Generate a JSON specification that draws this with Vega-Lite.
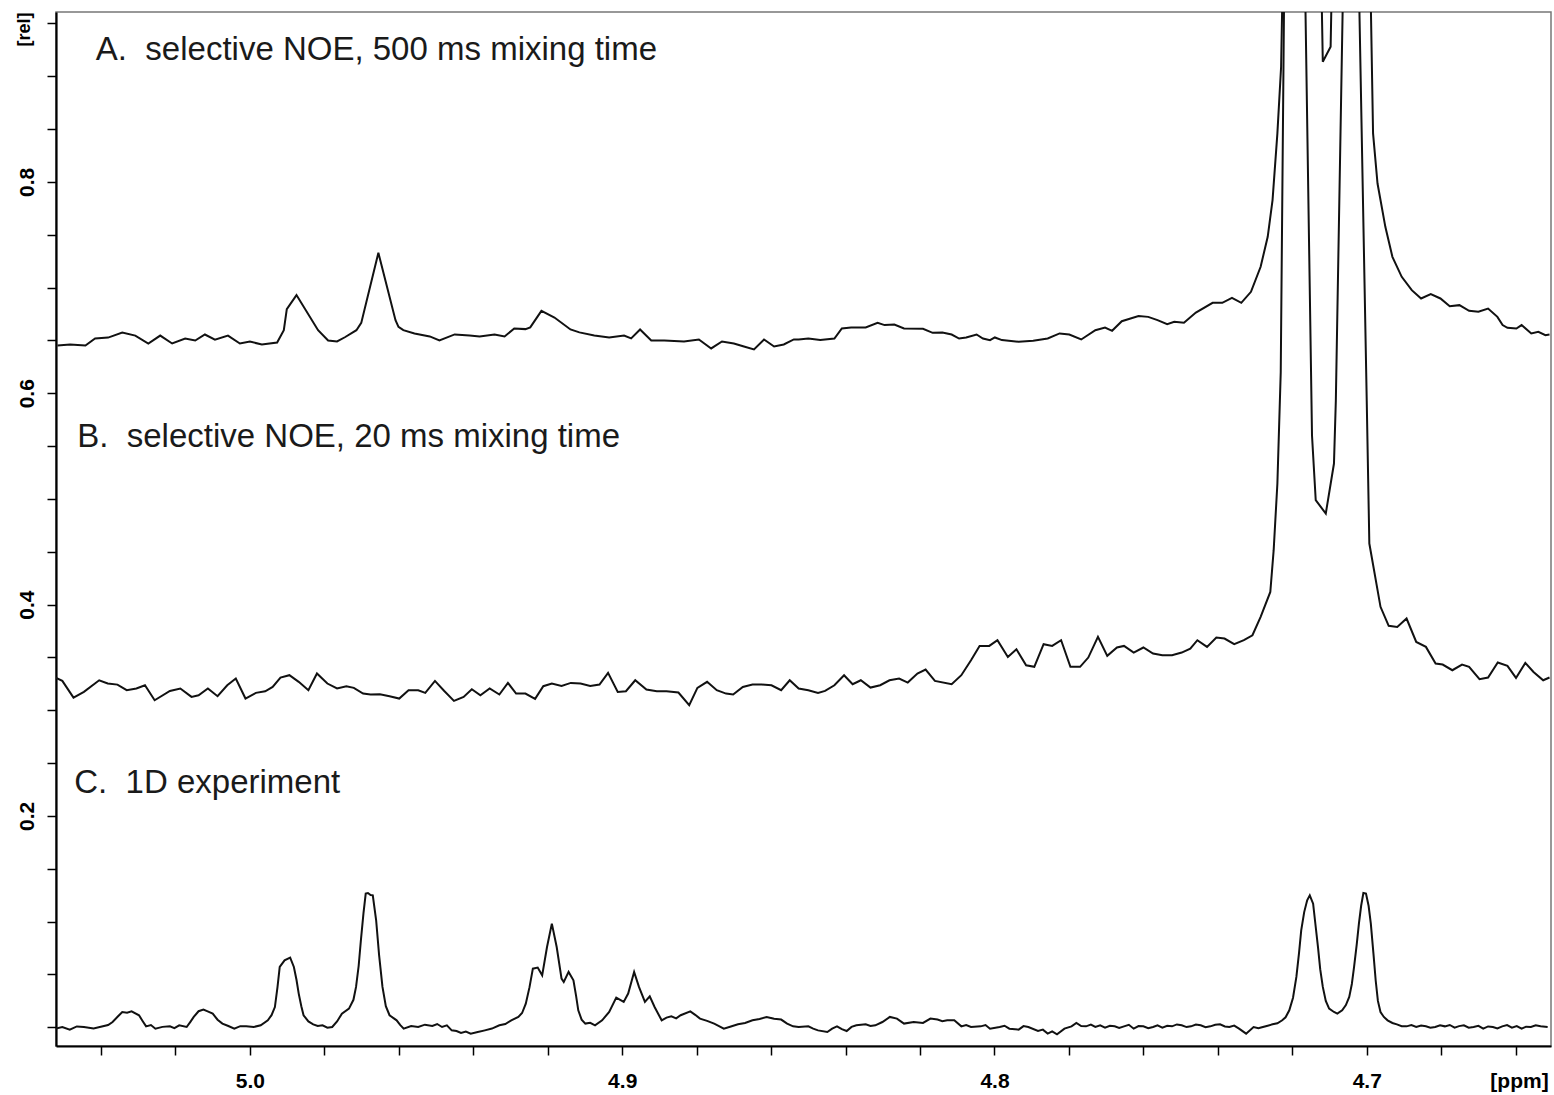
{
"$schema": "https://vega.github.io/schema/vega-lite/v6.json",
"width": 1495, "height": 1034,
"autosize": {"type": "none"},
"padding": {"left": 56, "top": 12, "right": 3, "bottom": 49},
"background": "white",
"config": {"view": {"stroke": "#777", "strokeWidth": 1.5}, "font": "Liberation Sans"},
"datasets": {
"labels": [
{"label": "A.\u00a0 selective NOE, 500 ms mixing time", "ppm": 5.0414, "rel": 0.9153},
{"label": "B.\u00a0 selective NOE, 20 ms mixing time", "ppm": 5.0464, "rel": 0.549},
{"label": "C.\u00a0 1D experiment", "ppm": 5.0472, "rel": 0.2218}
],
"spectra": [
{"trace":"A","ppm":5.0517,"rel":0.6452},{"trace":"A","ppm":5.0483,"rel":0.6461},{"trace":"A","ppm":5.0442,"rel":0.6452},{"trace":"A","ppm":5.0416,"rel":0.6518},{"trace":"A","ppm":5.0381,"rel":0.6527},{"trace":"A","ppm":5.0343,"rel":0.6575},{"trace":"A","ppm":5.0308,"rel":0.6546},{"trace":"A","ppm":5.0273,"rel":0.6471},{"trace":"A","ppm":5.0241,"rel":0.6546},{"trace":"A","ppm":5.0209,"rel":0.6471},{"trace":"A","ppm":5.0174,"rel":0.6518},{"trace":"A","ppm":5.0147,"rel":0.6499},{"trace":"A","ppm":5.0121,"rel":0.6556},{"trace":"A","ppm":5.0094,"rel":0.6508},{"trace":"A","ppm":5.0059,"rel":0.6546},{"trace":"A","ppm":5.0027,"rel":0.6471},{"trace":"A","ppm":5.0,"rel":0.6489},{"trace":"A","ppm":4.9968,"rel":0.6461},{"trace":"A","ppm":4.9927,"rel":0.648},{"trace":"A","ppm":4.9909,"rel":0.6597},{"trace":"A","ppm":4.9901,"rel":0.6796},{"trace":"A","ppm":4.9875,"rel":0.6929},{"trace":"A","ppm":4.9817,"rel":0.6597},{"trace":"A","ppm":4.979,"rel":0.65},{"trace":"A","ppm":4.9766,"rel":0.649},{"trace":"A","ppm":4.9745,"rel":0.653},{"trace":"A","ppm":4.9714,"rel":0.6597},{"trace":"A","ppm":4.9701,"rel":0.6666},{"trace":"A","ppm":4.9655,"rel":0.7329},{"trace":"A","ppm":4.9609,"rel":0.6692},{"trace":"A","ppm":4.9601,"rel":0.6629},{"trace":"A","ppm":4.9588,"rel":0.6597},{"trace":"A","ppm":4.9558,"rel":0.6566},{"trace":"A","ppm":4.9517,"rel":0.6538},{"trace":"A","ppm":4.9491,"rel":0.65},{"trace":"A","ppm":4.945,"rel":0.6557},{"trace":"A","ppm":4.941,"rel":0.6547},{"trace":"A","ppm":4.9383,"rel":0.6538},{"trace":"A","ppm":4.9343,"rel":0.6557},{"trace":"A","ppm":4.9316,"rel":0.6538},{"trace":"A","ppm":4.929,"rel":0.6613},{"trace":"A","ppm":4.926,"rel":0.6607},{"trace":"A","ppm":4.9247,"rel":0.6623},{"trace":"A","ppm":4.9217,"rel":0.678},{"trace":"A","ppm":4.9182,"rel":0.6717},{"trace":"A","ppm":4.9139,"rel":0.6604},{"trace":"A","ppm":4.9115,"rel":0.6576},{"trace":"A","ppm":4.9075,"rel":0.6547},{"trace":"A","ppm":4.9035,"rel":0.6528},{"trace":"A","ppm":4.8995,"rel":0.6547},{"trace":"A","ppm":4.8976,"rel":0.6519},{"trace":"A","ppm":4.8952,"rel":0.6604},{"trace":"A","ppm":4.8922,"rel":0.65},{"trace":"A","ppm":4.8887,"rel":0.65},{"trace":"A","ppm":4.8834,"rel":0.649},{"trace":"A","ppm":4.8794,"rel":0.6509},{"trace":"A","ppm":4.8761,"rel":0.6424},{"trace":"A","ppm":4.8732,"rel":0.649},{"trace":"A","ppm":4.87,"rel":0.6471},{"trace":"A","ppm":4.8673,"rel":0.6443},{"trace":"A","ppm":4.8646,"rel":0.6415},{"trace":"A","ppm":4.8619,"rel":0.6509},{"trace":"A","ppm":4.8592,"rel":0.6443},{"trace":"A","ppm":4.8566,"rel":0.6462},{"trace":"A","ppm":4.8539,"rel":0.6509},
{"trace":"A","ppm":4.8526,"rel":0.6509},{"trace":"A","ppm":4.85,"rel":0.6518},{"trace":"A","ppm":4.8468,"rel":0.6503},{"trace":"A","ppm":4.843,"rel":0.6518},{"trace":"A","ppm":4.841,"rel":0.6613},{"trace":"A","ppm":4.8385,"rel":0.6622},{"trace":"A","ppm":4.8346,"rel":0.6622},{"trace":"A","ppm":4.8314,"rel":0.6667},{"trace":"A","ppm":4.8295,"rel":0.6645},{"trace":"A","ppm":4.8269,"rel":0.6651},{"trace":"A","ppm":4.8243,"rel":0.6613},{"trace":"A","ppm":4.8192,"rel":0.661},{"trace":"A","ppm":4.8166,"rel":0.6572},{"trace":"A","ppm":4.814,"rel":0.6575},{"trace":"A","ppm":4.8115,"rel":0.6556},{"trace":"A","ppm":4.8095,"rel":0.6518},{"trace":"A","ppm":4.8076,"rel":0.6528},{"trace":"A","ppm":4.8048,"rel":0.6556},{"trace":"A","ppm":4.8031,"rel":0.6518},{"trace":"A","ppm":4.8012,"rel":0.6503},{"trace":"A","ppm":4.7999,"rel":0.6528},{"trace":"A","ppm":4.798,"rel":0.6503},{"trace":"A","ppm":4.7935,"rel":0.6487},{"trace":"A","ppm":4.7896,"rel":0.6496},{"trace":"A","ppm":4.7857,"rel":0.6518},{"trace":"A","ppm":4.7825,"rel":0.6566},{"trace":"A","ppm":4.7799,"rel":0.6556},{"trace":"A","ppm":4.7767,"rel":0.6509},{"trace":"A","ppm":4.7729,"rel":0.6597},{"trace":"A","ppm":4.7703,"rel":0.6622},{"trace":"A","ppm":4.7684,"rel":0.6591},{"trace":"A","ppm":4.7658,"rel":0.6682},{"trace":"A","ppm":4.7613,"rel":0.673},{"trace":"A","ppm":4.7587,"rel":0.6723},{"trace":"A","ppm":4.7562,"rel":0.6692},{"trace":"A","ppm":4.7536,"rel":0.6654},{"trace":"A","ppm":4.7517,"rel":0.6676},{"trace":"A","ppm":4.7491,"rel":0.6667},{"trace":"A","ppm":4.7459,"rel":0.6764},{"trace":"A","ppm":4.7414,"rel":0.6856},{"trace":"A","ppm":4.7388,"rel":0.6856},{"trace":"A","ppm":4.7362,"rel":0.6903},{"trace":"A","ppm":4.7337,"rel":0.6856},{"trace":"A","ppm":4.7311,"rel":0.696},{"trace":"A","ppm":4.7285,"rel":0.7197},{"trace":"A","ppm":4.7266,"rel":0.7481},{"trace":"A","ppm":4.7253,"rel":0.7828},{"trace":"A","ppm":4.724,"rel":0.8459},{"trace":"A","ppm":4.723,"rel":0.909},{"trace":"A","ppm":4.7174,"rel":2.0},{"trace":"A","ppm":4.7118,"rel":0.9137},{"trace":"A","ppm":4.7097,"rel":0.9279},{"trace":"A","ppm":4.704,"rel":2.0},{"trace":"A","ppm":4.6983,"rel":0.8459},{"trace":"A","ppm":4.6971,"rel":0.7985},{"trace":"A","ppm":4.695,"rel":0.7575},{"trace":"A","ppm":4.6931,"rel":0.7291},{"trace":"A","ppm":4.6906,"rel":0.7102},{"trace":"A","ppm":4.6879,"rel":0.6976},{"trace":"A","ppm":4.6854,"rel":0.6897},{"trace":"A","ppm":4.6828,"rel":0.6938},{"trace":"A","ppm":4.6802,"rel":0.6897},{"trace":"A","ppm":4.6777,"rel":0.6824},{"trace":"A","ppm":4.6751,"rel":0.6834},{"trace":"A","ppm":4.6725,"rel":0.678},{"trace":"A","ppm":4.67,"rel":0.6771},{"trace":"A","ppm":4.6674,"rel":0.6802},{"trace":"A","ppm":4.6649,"rel":0.6723},{"trace":"A","ppm":4.6635,"rel":0.6645},{"trace":"A","ppm":4.6622,"rel":0.6619},{"trace":"A","ppm":4.6598,"rel":0.6613},{"trace":"A","ppm":4.6584,"rel":0.6645},{"trace":"A","ppm":4.6558,"rel":0.6566},{"trace":"A","ppm":4.6539,"rel":0.6581},{"trace":"A","ppm":4.652,"rel":0.655},{"trace":"A","ppm":4.6509,"rel":0.6556},
{"trace":"B","ppm":5.0523,"rel":0.331},{"trace":"B","ppm":5.0504,"rel":0.3278},{"trace":"B","ppm":5.0474,"rel":0.312},{"trace":"B","ppm":5.0446,"rel":0.3174},{"trace":"B","ppm":5.0405,"rel":0.3284},{"trace":"B","ppm":5.0382,"rel":0.3253},{"trace":"B","ppm":5.0356,"rel":0.3243},{"trace":"B","ppm":5.0331,"rel":0.319},{"trace":"B","ppm":5.0305,"rel":0.3206},{"trace":"B","ppm":5.0282,"rel":0.3237},{"trace":"B","ppm":5.0256,"rel":0.3095},{"trace":"B","ppm":5.0215,"rel":0.3183},{"trace":"B","ppm":5.0187,"rel":0.3206},{"trace":"B","ppm":5.0157,"rel":0.3127},{"trace":"B","ppm":5.0138,"rel":0.3142},{"trace":"B","ppm":5.0113,"rel":0.3206},{"trace":"B","ppm":5.0087,"rel":0.3133},{"trace":"B","ppm":5.0061,"rel":0.3237},{"trace":"B","ppm":5.0038,"rel":0.33},{"trace":"B","ppm":5.0012,"rel":0.3111},{"trace":"B","ppm":4.9984,"rel":0.3165},{"trace":"B","ppm":4.9959,"rel":0.318},{"trace":"B","ppm":4.9939,"rel":0.3221},{"trace":"B","ppm":4.9918,"rel":0.331},{"trace":"B","ppm":4.9894,"rel":0.3332},{"trace":"B","ppm":4.9869,"rel":0.3269},{"trace":"B","ppm":4.9843,"rel":0.319},{"trace":"B","ppm":4.982,"rel":0.3348},{"trace":"B","ppm":4.9792,"rel":0.3253},{"trace":"B","ppm":4.9766,"rel":0.3206},{"trace":"B","ppm":4.9741,"rel":0.3228},{"trace":"B","ppm":4.9721,"rel":0.3212},{"trace":"B","ppm":4.9696,"rel":0.3158},{"trace":"B","ppm":4.9676,"rel":0.3149},{"trace":"B","ppm":4.9651,"rel":0.3152},{"trace":"B","ppm":4.9625,"rel":0.3133},{"trace":"B","ppm":4.9599,"rel":0.3111},{"trace":"B","ppm":4.9574,"rel":0.319},{"trace":"B","ppm":4.9548,"rel":0.319},{"trace":"B","ppm":4.9529,"rel":0.3165},{"trace":"B","ppm":4.9503,"rel":0.3278},{"trace":"B","ppm":4.9478,"rel":0.3183},{"trace":"B","ppm":4.9452,"rel":0.3089},{"trace":"B","ppm":4.9426,"rel":0.3127},{"trace":"B","ppm":4.9404,"rel":0.3199},{"trace":"B","ppm":4.9381,"rel":0.3142},{"trace":"B","ppm":4.9356,"rel":0.3206},{"trace":"B","ppm":4.933,"rel":0.3149},{"trace":"B","ppm":4.9307,"rel":0.3259},{"trace":"B","ppm":4.9285,"rel":0.3158},{"trace":"B","ppm":4.926,"rel":0.3158},{"trace":"B","ppm":4.9234,"rel":0.3108},{"trace":"B","ppm":4.9212,"rel":0.3228},{"trace":"B","ppm":4.9189,"rel":0.3253},{"trace":"B","ppm":4.9163,"rel":0.3231},{"trace":"B","ppm":4.9138,"rel":0.3259},{"trace":"B","ppm":4.9112,"rel":0.3253},{"trace":"B","ppm":4.9086,"rel":0.3231},{"trace":"B","ppm":4.9061,"rel":0.3243},{"trace":"B","ppm":4.9038,"rel":0.3354},{"trace":"B","ppm":4.9012,"rel":0.3174},{"trace":"B","ppm":4.899,"rel":0.318},{"trace":"B","ppm":4.8965,"rel":0.3284},{"trace":"B","ppm":4.8935,"rel":0.3196},{"trace":"B","ppm":4.8907,"rel":0.318},{"trace":"B","ppm":4.8881,"rel":0.318},{"trace":"B","ppm":4.8849,"rel":0.3168},{"trace":"B","ppm":4.882,"rel":0.3048},{"trace":"B","ppm":4.8798,"rel":0.3212},{"trace":"B","ppm":4.8772,"rel":0.3269},{"trace":"B","ppm":4.8746,"rel":0.319},{"trace":"B","ppm":4.8721,"rel":0.3158},{"trace":"B","ppm":4.8702,"rel":0.3149},{"trace":"B","ppm":4.8676,"rel":0.3221},{"trace":"B","ppm":4.865,"rel":0.3243},{"trace":"B","ppm":4.8625,"rel":0.3243},{"trace":"B","ppm":4.8599,"rel":0.3237},{"trace":"B","ppm":4.8573,"rel":0.319},{"trace":"B","ppm":4.855,"rel":0.3284},
{"trace":"B","ppm":4.8526,"rel":0.3206},{"trace":"B","ppm":4.85,"rel":0.319},{"trace":"B","ppm":4.8474,"rel":0.3165},{"trace":"B","ppm":4.8455,"rel":0.3183},{"trace":"B","ppm":4.843,"rel":0.3237},{"trace":"B","ppm":4.8404,"rel":0.3332},{"trace":"B","ppm":4.8381,"rel":0.3247},{"trace":"B","ppm":4.8359,"rel":0.3284},{"trace":"B","ppm":4.8333,"rel":0.3215},{"trace":"B","ppm":4.8307,"rel":0.3237},{"trace":"B","ppm":4.8282,"rel":0.3284},{"trace":"B","ppm":4.8256,"rel":0.33},{"trace":"B","ppm":4.8233,"rel":0.3262},{"trace":"B","ppm":4.8207,"rel":0.3348},{"trace":"B","ppm":4.8185,"rel":0.3385},{"trace":"B","ppm":4.816,"rel":0.3278},{"trace":"B","ppm":4.8115,"rel":0.3247},{"trace":"B","ppm":4.8089,"rel":0.3332},{"trace":"B","ppm":4.8063,"rel":0.3474},{"trace":"B","ppm":4.804,"rel":0.3609},{"trace":"B","ppm":4.8014,"rel":0.3609},{"trace":"B","ppm":4.7992,"rel":0.3663},{"trace":"B","ppm":4.7964,"rel":0.3505},{"trace":"B","ppm":4.7941,"rel":0.3578},{"trace":"B","ppm":4.7915,"rel":0.3426},{"trace":"B","ppm":4.7893,"rel":0.3411},{"trace":"B","ppm":4.7868,"rel":0.3625},{"trace":"B","ppm":4.7845,"rel":0.3609},{"trace":"B","ppm":4.7821,"rel":0.3663},{"trace":"B","ppm":4.7796,"rel":0.3411},{"trace":"B","ppm":4.777,"rel":0.3411},{"trace":"B","ppm":4.7748,"rel":0.3499},{"trace":"B","ppm":4.7722,"rel":0.3695},{"trace":"B","ppm":4.7697,"rel":0.3515},{"trace":"B","ppm":4.7671,"rel":0.3594},{"trace":"B","ppm":4.7652,"rel":0.3609},{"trace":"B","ppm":4.7626,"rel":0.3546},{"trace":"B","ppm":4.76,"rel":0.3594},{"trace":"B","ppm":4.7574,"rel":0.3537},{"trace":"B","ppm":4.7549,"rel":0.3521},{"trace":"B","ppm":4.7523,"rel":0.3521},{"trace":"B","ppm":4.7497,"rel":0.3546},{"trace":"B","ppm":4.7474,"rel":0.3584},{"trace":"B","ppm":4.7455,"rel":0.3663},{"trace":"B","ppm":4.7429,"rel":0.36},{"trace":"B","ppm":4.7404,"rel":0.3688},{"trace":"B","ppm":4.7382,"rel":0.3679},{"trace":"B","ppm":4.7356,"rel":0.3625},{"trace":"B","ppm":4.733,"rel":0.3663},{"trace":"B","ppm":4.7307,"rel":0.371},{"trace":"B","ppm":4.7285,"rel":0.3884},{"trace":"B","ppm":4.7259,"rel":0.412},{"trace":"B","ppm":4.725,"rel":0.4515},{"trace":"B","ppm":4.724,"rel":0.5146},{"trace":"B","ppm":4.7231,"rel":0.62},{"trace":"B","ppm":4.7201,"rel":1.8},{"trace":"B","ppm":4.7147,"rel":0.56},{"trace":"B","ppm":4.7137,"rel":0.4988},{"trace":"B","ppm":4.711,"rel":0.4862},{"trace":"B","ppm":4.7088,"rel":0.5335},{"trace":"B","ppm":4.7083,"rel":0.593},{"trace":"B","ppm":4.7043,"rel":1.4},{"trace":"B","ppm":4.7,"rel":0.593},{"trace":"B","ppm":4.6993,"rel":0.4578},{"trace":"B","ppm":4.6963,"rel":0.3979},{"trace":"B","ppm":4.6941,"rel":0.3799},{"trace":"B","ppm":4.6918,"rel":0.3789},{"trace":"B","ppm":4.6893,"rel":0.3868},{"trace":"B","ppm":4.6867,"rel":0.3647},{"trace":"B","ppm":4.6841,"rel":0.36},{"trace":"B","ppm":4.6815,"rel":0.3442},{"trace":"B","ppm":4.6796,"rel":0.3433},{"trace":"B","ppm":4.677,"rel":0.3379},{"trace":"B","ppm":4.6744,"rel":0.3433},{"trace":"B","ppm":4.6725,"rel":0.3411},{"trace":"B","ppm":4.6697,"rel":0.3294},{"trace":"B","ppm":4.6674,"rel":0.331},{"trace":"B","ppm":4.6648,"rel":0.3452},{"trace":"B","ppm":4.6622,"rel":0.342},{"trace":"B","ppm":4.6599,"rel":0.3306},{"trace":"B","ppm":4.6574,"rel":0.3448},{"trace":"B","ppm":4.6552,"rel":0.3363},{"trace":"B","ppm":4.6526,"rel":0.3284},{"trace":"B","ppm":4.6509,"rel":0.331},
{"trace":"C","ppm":5.0523,"rel":-0.0013},{"trace":"C","ppm":5.0504,"rel":0.0002},{"trace":"C","ppm":5.0484,"rel":-0.0022},{"trace":"C","ppm":5.0465,"rel":0.0008},{"trace":"C","ppm":5.0446,"rel":0.0003},{"trace":"C","ppm":5.042,"rel":-0.0012},{"trace":"C","ppm":5.0395,"rel":0.0009},{"trace":"C","ppm":5.0381,"rel":0.0021},{"trace":"C","ppm":5.0369,"rel":0.005},{"trace":"C","ppm":5.0355,"rel":0.0102},{"trace":"C","ppm":5.0343,"rel":0.0145},{"trace":"C","ppm":5.033,"rel":0.0138},{"trace":"C","ppm":5.0318,"rel":0.0151},{"trace":"C","ppm":5.0298,"rel":0.0114},{"trace":"C","ppm":5.0288,"rel":0.0058},{"trace":"C","ppm":5.0279,"rel":0.0009},{"trace":"C","ppm":5.0266,"rel":0.0021},{"trace":"C","ppm":5.0254,"rel":-0.0013},{"trace":"C","ppm":5.0235,"rel":0.0004},{"trace":"C","ppm":5.0215,"rel":0.0009},{"trace":"C","ppm":5.0203,"rel":-0.0008},{"trace":"C","ppm":5.019,"rel":0.0019},{"trace":"C","ppm":5.017,"rel":0.0003},{"trace":"C","ppm":5.016,"rel":0.0052},{"trace":"C","ppm":5.0151,"rel":0.0098},{"trace":"C","ppm":5.0138,"rel":0.0152},{"trace":"C","ppm":5.0125,"rel":0.0167},{"trace":"C","ppm":5.0112,"rel":0.0148},{"trace":"C","ppm":5.01,"rel":0.0129},{"trace":"C","ppm":5.0087,"rel":0.0072},{"trace":"C","ppm":5.0074,"rel":0.0035},{"trace":"C","ppm":5.0058,"rel":0.0012},{"trace":"C","ppm":5.0042,"rel":-0.0013},{"trace":"C","ppm":5.0026,"rel":0.0011},{"trace":"C","ppm":5.001,"rel":0.0009},{"trace":"C","ppm":4.999,"rel":0.0003},{"trace":"C","ppm":4.9971,"rel":0.0019},{"trace":"C","ppm":4.9952,"rel":0.0066},{"trace":"C","ppm":4.9942,"rel":0.0115},{"trace":"C","ppm":4.9933,"rel":0.0192},{"trace":"C","ppm":4.9926,"rel":0.038},{"trace":"C","ppm":4.992,"rel":0.0571},{"trace":"C","ppm":4.9907,"rel":0.0634},{"trace":"C","ppm":4.9892,"rel":0.0659},{"trace":"C","ppm":4.9882,"rel":0.0571},{"trace":"C","ppm":4.9875,"rel":0.045},{"trace":"C","ppm":4.9869,"rel":0.0319},{"trace":"C","ppm":4.9862,"rel":0.02},{"trace":"C","ppm":4.9856,"rel":0.0114},{"trace":"C","ppm":4.9843,"rel":0.0055},{"trace":"C","ppm":4.983,"rel":0.0028},{"trace":"C","ppm":4.9818,"rel":0.0012},{"trace":"C","ppm":4.9805,"rel":0.0019},{"trace":"C","ppm":4.9792,"rel":-0.0004},{"trace":"C","ppm":4.9779,"rel":0.0003},{"trace":"C","ppm":4.9766,"rel":0.0055},{"trace":"C","ppm":4.9753,"rel":0.0129},{"trace":"C","ppm":4.9734,"rel":0.0177},{"trace":"C","ppm":4.9722,"rel":0.026},{"trace":"C","ppm":4.9715,"rel":0.0382},{"trace":"C","ppm":4.9708,"rel":0.058},{"trace":"C","ppm":4.9702,"rel":0.0823},{"trace":"C","ppm":4.9695,"rel":0.108},{"trace":"C","ppm":4.9689,"rel":0.1265},{"trace":"C","ppm":4.9683,"rel":0.1271},{"trace":"C","ppm":4.9676,"rel":0.1252},{"trace":"C","ppm":4.967,"rel":0.1249},{"trace":"C","ppm":4.9661,"rel":0.1013},{"trace":"C","ppm":4.9653,"rel":0.068},{"trace":"C","ppm":4.9644,"rel":0.0382},{"trace":"C","ppm":4.9635,"rel":0.02},{"trace":"C","ppm":4.9625,"rel":0.0114},{"trace":"C","ppm":4.9606,"rel":0.0066},{"trace":"C","ppm":4.9596,"rel":0.0021},{"trace":"C","ppm":4.9587,"rel":-0.0013},{"trace":"C","ppm":4.9567,"rel":0.0012},{"trace":"C","ppm":4.9548,"rel":0.0003},{"trace":"C","ppm":4.953,"rel":0.0025},{"trace":"C","ppm":4.951,"rel":0.0013},{"trace":"C","ppm":4.9497,"rel":0.0031},{"trace":"C","ppm":4.9484,"rel":0.0003},{"trace":"C","ppm":4.9471,"rel":0.0018},{"trace":"C","ppm":4.9458,"rel":-0.0029},{"trace":"C","ppm":4.9445,"rel":-0.0035},{"trace":"C","ppm":4.9433,"rel":-0.0054},{"trace":"C","ppm":4.942,"rel":-0.0041},{"trace":"C","ppm":4.9407,"rel":-0.006},{"trace":"C","ppm":4.9388,"rel":-0.0045},{"trace":"C","ppm":4.9369,"rel":-0.0029},{"trace":"C","ppm":4.935,"rel":-0.0012},{"trace":"C","ppm":4.933,"rel":0.0019},{"trace":"C","ppm":4.9314,"rel":0.0031},{"trace":"C","ppm":4.9298,"rel":0.0066},{"trace":"C","ppm":4.9279,"rel":0.0098},{"trace":"C","ppm":4.9269,"rel":0.0135},{"trace":"C","ppm":4.9259,"rel":0.0224},{"trace":"C","ppm":4.9249,"rel":0.038},{"trace":"C","ppm":4.924,"rel":0.0555},{"trace":"C","ppm":4.9227,"rel":0.0565},{"trace":"C","ppm":4.9215,"rel":0.0492},{"trace":"C","ppm":4.9202,"rel":0.076},{"trace":"C","ppm":4.9189,"rel":0.0981},{"trace":"C","ppm":4.9176,"rel":0.076},{"trace":"C","ppm":4.9163,"rel":0.0461},{"trace":"C","ppm":4.9157,"rel":0.0429},{"trace":"C","ppm":4.9144,"rel":0.0524},{"trace":"C","ppm":4.9131,"rel":0.0445},{"trace":"C","ppm":4.9124,"rel":0.03},{"trace":"C","ppm":4.9118,"rel":0.0161},{"trace":"C","ppm":4.9109,"rel":0.0072},{"trace":"C","ppm":4.9099,"rel":0.0035},{"trace":"C","ppm":4.9086,"rel":0.0042},{"trace":"C","ppm":4.9073,"rel":0.0019},{"trace":"C","ppm":4.9054,"rel":0.0066},{"trace":"C","ppm":4.9035,"rel":0.0145},{"trace":"C","ppm":4.9016,"rel":0.0281},{"trace":"C","ppm":4.8996,"rel":0.024},{"trace":"C","ppm":4.8984,"rel":0.0319},{"trace":"C","ppm":4.8968,"rel":0.0524},{"trace":"C","ppm":4.8955,"rel":0.0382},{"trace":"C","ppm":4.8939,"rel":0.024},{"trace":"C","ppm":4.8926,"rel":0.0293},{"trace":"C","ppm":4.8913,"rel":0.0192},{"trace":"C","ppm":4.8894,"rel":0.0066},{"trace":"C","ppm":4.8881,"rel":0.0092},{"trace":"C","ppm":4.8868,"rel":0.0104},{"trace":"C","ppm":4.8855,"rel":0.0085},{"trace":"C","ppm":4.8843,"rel":0.0114},{"trace":"C","ppm":4.8817,"rel":0.0151},{"trace":"C","ppm":4.8804,"rel":0.0118},{"trace":"C","ppm":4.8791,"rel":0.0082},{"trace":"C","ppm":4.8772,"rel":0.0061},{"trace":"C","ppm":4.8753,"rel":0.0035},{"trace":"C","ppm":4.874,"rel":0.0012},{"trace":"C","ppm":4.8727,"rel":-0.0013},{"trace":"C","ppm":4.8708,"rel":0.0008},{"trace":"C","ppm":4.8689,"rel":0.0028},{"trace":"C","ppm":4.867,"rel":0.0041},{"trace":"C","ppm":4.865,"rel":0.0066},{"trace":"C","ppm":4.8631,"rel":0.0078},{"trace":"C","ppm":4.8612,"rel":0.0098},{"trace":"C","ppm":4.8592,"rel":0.0081},{"trace":"C","ppm":4.8573,"rel":0.0073},{"trace":"C","ppm":4.8557,"rel":0.0035},{"trace":"C","ppm":4.8541,"rel":0.0009},
{"trace":"C","ppm":4.8526,"rel":0.0003},{"trace":"C","ppm":4.85,"rel":0.0009},{"trace":"C","ppm":4.8487,"rel":-0.0012},{"trace":"C","ppm":4.8474,"rel":-0.0029},{"trace":"C","ppm":4.8449,"rel":-0.0044},{"trace":"C","ppm":4.8436,"rel":-0.0012},{"trace":"C","ppm":4.8423,"rel":0.0009},{"trace":"C","ppm":4.841,"rel":-0.0018},{"trace":"C","ppm":4.8397,"rel":-0.0035},{"trace":"C","ppm":4.8384,"rel":0.0004},{"trace":"C","ppm":4.8371,"rel":0.0019},{"trace":"C","ppm":4.8346,"rel":0.0028},{"trace":"C","ppm":4.8333,"rel":0.0012},{"trace":"C","ppm":4.832,"rel":0.0019},{"trace":"C","ppm":4.8301,"rel":0.005},{"trace":"C","ppm":4.8281,"rel":0.0098},{"trace":"C","ppm":4.8262,"rel":0.0082},{"trace":"C","ppm":4.8243,"rel":0.0035},{"trace":"C","ppm":4.8217,"rel":0.005},{"trace":"C","ppm":4.8192,"rel":0.0041},{"trace":"C","ppm":4.8172,"rel":0.0082},{"trace":"C","ppm":4.8153,"rel":0.0073},{"trace":"C","ppm":4.814,"rel":0.0058},{"trace":"C","ppm":4.8127,"rel":0.0066},{"trace":"C","ppm":4.8108,"rel":0.0066},{"trace":"C","ppm":4.8089,"rel":0.0009},{"trace":"C","ppm":4.8076,"rel":0.0022},{"trace":"C","ppm":4.8063,"rel":0.0003},{"trace":"C","ppm":4.8037,"rel":0.0009},{"trace":"C","ppm":4.8024,"rel":0.0021},{"trace":"C","ppm":4.8012,"rel":-0.0013},{"trace":"C","ppm":4.7986,"rel":0.0003},{"trace":"C","ppm":4.7973,"rel":0.0015},{"trace":"C","ppm":4.796,"rel":-0.0013},{"trace":"C","ppm":4.7935,"rel":-0.0022},{"trace":"C","ppm":4.7922,"rel":0.0011},{"trace":"C","ppm":4.7909,"rel":0.0003},{"trace":"C","ppm":4.7883,"rel":-0.0035},{"trace":"C","ppm":4.787,"rel":-0.0022},{"trace":"C","ppm":4.7857,"rel":-0.006},{"trace":"C","ppm":4.7845,"rel":-0.0038},{"trace":"C","ppm":4.7832,"rel":-0.0066},{"trace":"C","ppm":4.7812,"rel":-0.0013},{"trace":"C","ppm":4.7793,"rel":0.0009},{"trace":"C","ppm":4.778,"rel":0.0041},{"trace":"C","ppm":4.7767,"rel":0.0012},{"trace":"C","ppm":4.7754,"rel":0.0009},{"trace":"C","ppm":4.7741,"rel":0.0025},{"trace":"C","ppm":4.7729,"rel":0.0003},{"trace":"C","ppm":4.7716,"rel":0.0018},{"trace":"C","ppm":4.7703,"rel":-0.0003},{"trace":"C","ppm":4.769,"rel":0.0015},{"trace":"C","ppm":4.7677,"rel":0.0009},{"trace":"C","ppm":4.7665,"rel":-0.0006},{"trace":"C","ppm":4.7652,"rel":0.0009},{"trace":"C","ppm":4.7639,"rel":0.0024},{"trace":"C","ppm":4.7626,"rel":-0.0013},{"trace":"C","ppm":4.7613,"rel":0.0011},{"trace":"C","ppm":4.76,"rel":0.0009},{"trace":"C","ppm":4.7587,"rel":-0.0008},{"trace":"C","ppm":4.7574,"rel":0.0003},{"trace":"C","ppm":4.7562,"rel":0.0019},{"trace":"C","ppm":4.7549,"rel":-0.0003},{"trace":"C","ppm":4.7536,"rel":0.0014},{"trace":"C","ppm":4.7523,"rel":0.0009},{"trace":"C","ppm":4.751,"rel":0.0027},{"trace":"C","ppm":4.7497,"rel":0.0019},{"trace":"C","ppm":4.7484,"rel":0.0002},{"trace":"C","ppm":4.7472,"rel":0.0009},{"trace":"C","ppm":4.7459,"rel":0.0026},{"trace":"C","ppm":4.7446,"rel":0.0019},{"trace":"C","ppm":4.7433,"rel":0.0001},{"trace":"C","ppm":4.742,"rel":0.0009},{"trace":"C","ppm":4.7407,"rel":0.0024},{"trace":"C","ppm":4.7394,"rel":0.0028},{"trace":"C","ppm":4.7381,"rel":0.0008},{"trace":"C","ppm":4.7369,"rel":0.0003},{"trace":"C","ppm":4.7356,"rel":0.0016},{"trace":"C","ppm":4.7343,"rel":-0.0013},{"trace":"C","ppm":4.7324,"rel":-0.006},{"trace":"C","ppm":4.7304,"rel":0.0003},{"trace":"C","ppm":4.7291,"rel":-0.0009},{"trace":"C","ppm":4.7279,"rel":0.0003},{"trace":"C","ppm":4.7266,"rel":0.0015},{"trace":"C","ppm":4.7253,"rel":0.0028},{"trace":"C","ppm":4.724,"rel":0.0038},{"trace":"C","ppm":4.7227,"rel":0.0066},{"trace":"C","ppm":4.7218,"rel":0.0095},{"trace":"C","ppm":4.7208,"rel":0.0161},{"trace":"C","ppm":4.7198,"rel":0.028},{"trace":"C","ppm":4.7189,"rel":0.0477},{"trace":"C","ppm":4.7182,"rel":0.07},{"trace":"C","ppm":4.7176,"rel":0.0918},{"trace":"C","ppm":4.7168,"rel":0.109},{"trace":"C","ppm":4.716,"rel":0.1202},{"trace":"C","ppm":4.7153,"rel":0.1249},{"trace":"C","ppm":4.7144,"rel":0.117},{"trace":"C","ppm":4.7138,"rel":0.098},{"trace":"C","ppm":4.7131,"rel":0.076},{"trace":"C","ppm":4.7125,"rel":0.055},{"trace":"C","ppm":4.7118,"rel":0.0382},{"trace":"C","ppm":4.711,"rel":0.025},{"trace":"C","ppm":4.7101,"rel":0.0177},{"trace":"C","ppm":4.7088,"rel":0.0145},{"trace":"C","ppm":4.7079,"rel":0.0129},{"trace":"C","ppm":4.7066,"rel":0.0161},{"trace":"C","ppm":4.7056,"rel":0.021},{"trace":"C","ppm":4.7047,"rel":0.0287},{"trace":"C","ppm":4.704,"rel":0.041},{"trace":"C","ppm":4.7034,"rel":0.0571},{"trace":"C","ppm":4.7027,"rel":0.078},{"trace":"C","ppm":4.7021,"rel":0.0981},{"trace":"C","ppm":4.7015,"rel":0.115},{"trace":"C","ppm":4.7009,"rel":0.1271},{"trace":"C","ppm":4.7002,"rel":0.1265},{"trace":"C","ppm":4.6995,"rel":0.115},{"trace":"C","ppm":4.6989,"rel":0.0981},{"trace":"C","ppm":4.6982,"rel":0.07},{"trace":"C","ppm":4.6976,"rel":0.0445},{"trace":"C","ppm":4.697,"rel":0.025},{"trace":"C","ppm":4.6963,"rel":0.0145},{"trace":"C","ppm":4.6954,"rel":0.0098},{"trace":"C","ppm":4.6944,"rel":0.0066},{"trace":"C","ppm":4.6931,"rel":0.0041},{"trace":"C","ppm":4.6919,"rel":0.0028},{"trace":"C","ppm":4.6906,"rel":0.0011},{"trace":"C","ppm":4.6893,"rel":0.0009},{"trace":"C","ppm":4.688,"rel":0.0021},{"trace":"C","ppm":4.6867,"rel":0.0003},{"trace":"C","ppm":4.6854,"rel":0.0016},{"trace":"C","ppm":4.6841,"rel":0.0009},{"trace":"C","ppm":4.6829,"rel":-0.0005},{"trace":"C","ppm":4.6816,"rel":0.0003},{"trace":"C","ppm":4.6803,"rel":0.0019},{"trace":"C","ppm":4.679,"rel":0.0009},{"trace":"C","ppm":4.6777,"rel":0.0022},{"trace":"C","ppm":4.6764,"rel":-0.0003},{"trace":"C","ppm":4.6752,"rel":0.0011},{"trace":"C","ppm":4.6739,"rel":0.0019},{"trace":"C","ppm":4.6726,"rel":-0.0004},{"trace":"C","ppm":4.6713,"rel":0.0003},{"trace":"C","ppm":4.67,"rel":0.0014},{"trace":"C","ppm":4.6687,"rel":-0.0013},{"trace":"C","ppm":4.6674,"rel":0.0008},{"trace":"C","ppm":4.6661,"rel":0.0003},{"trace":"C","ppm":4.6649,"rel":-0.0011},{"trace":"C","ppm":4.6636,"rel":0.0009},{"trace":"C","ppm":4.6623,"rel":0.0021},{"trace":"C","ppm":4.661,"rel":-0.0003},{"trace":"C","ppm":4.6597,"rel":0.0012},{"trace":"C","ppm":4.6584,"rel":-0.0013},{"trace":"C","ppm":4.6572,"rel":0.0006},{"trace":"C","ppm":4.6559,"rel":0.0003},{"trace":"C","ppm":4.6546,"rel":0.0019},{"trace":"C","ppm":4.6533,"rel":0.0009},{"trace":"C","ppm":4.6514,"rel":0.0003}
]
},
"encoding": {
"x": {"field": "ppm", "type": "quantitative",
"scale": {"domain": [4.6505, 5.0521], "reverse": true, "nice": false, "zero": false},
"axis": {"orient": "bottom", "grid": false,
"values": [5.04, 5.02, 5.0, 4.98, 4.96, 4.94, 4.92, 4.9, 4.88, 4.86, 4.84, 4.82, 4.8, 4.78, 4.76, 4.74, 4.72, 4.7, 4.68, 4.66],
"labelExpr": "abs(datum.value*10 - round(datum.value*10)) < 0.001 ? format(datum.value, '.1f') : ''",
"labelFont": "Liberation Sans", "labelFontSize": 21, "labelFontWeight": "bold", "labelColor": "#000000",
"labelPadding": 15, "labelFlush": false, "labelOverlap": false,
"tickSize": 9, "tickColor": "#000000", "tickWidth": 1.5,
"domainColor": "#000000", "domainWidth": 2.2,
"title": "[ppm]", "titleFont": "Liberation Sans", "titleFontSize": 21, "titleFontWeight": "bold", "titleColor": "#000000",
"titleX": 1463, "titleY": 41, "titleAlign": "center", "titleBaseline": "alphabetic", "titleAngle": 0}},
"y": {"field": "rel", "type": "quantitative",
"scale": {"domain": [-0.0177, 0.9608], "nice": false, "zero": false},
"axis": {"orient": "left", "grid": false,
"values": [0, 0.05, 0.1, 0.15, 0.2, 0.25, 0.3, 0.35, 0.4, 0.45, 0.5, 0.55, 0.6, 0.65, 0.7, 0.75, 0.8, 0.85, 0.9, 0.95],
"labelExpr": "datum.value > 0.1 && abs(datum.value*5 - round(datum.value*5)) < 0.001 ? format(datum.value, '.1f') : ''",
"labelFont": "Liberation Sans", "labelFontSize": 21, "labelFontWeight": "bold", "labelColor": "#000000",
"labelAngle": 270, "labelAlign": "center", "labelBaseline": "alphabetic", "labelPadding": 14,
"labelFlush": false, "labelOverlap": false,
"tickSize": 9, "tickColor": "#000000", "tickWidth": 1.5,
"domainColor": "#000000", "domainWidth": 2.2,
"title": "[rel]", "titleFont": "Liberation Sans", "titleFontSize": 18, "titleFontWeight": "bold", "titleColor": "#000000",
"titleAngle": 270, "titleX": -27, "titleY": 17, "titleAlign": "center", "titleBaseline": "alphabetic"}}
},
"layer": [
{
"data": {"name": "spectra"},
"mark": {"type": "line", "clip": true, "color": "#111111", "strokeWidth": 2},
"encoding": {"detail": {"field": "trace"}}
},
{
"data": {"name": "labels"},
"mark": {"type": "text", "align": "left", "baseline": "alphabetic", "fontSize": 33, "font": "Liberation Sans", "color": "#1a1a1a"},
"encoding": {"text": {"field": "label"}}
}
]
}
